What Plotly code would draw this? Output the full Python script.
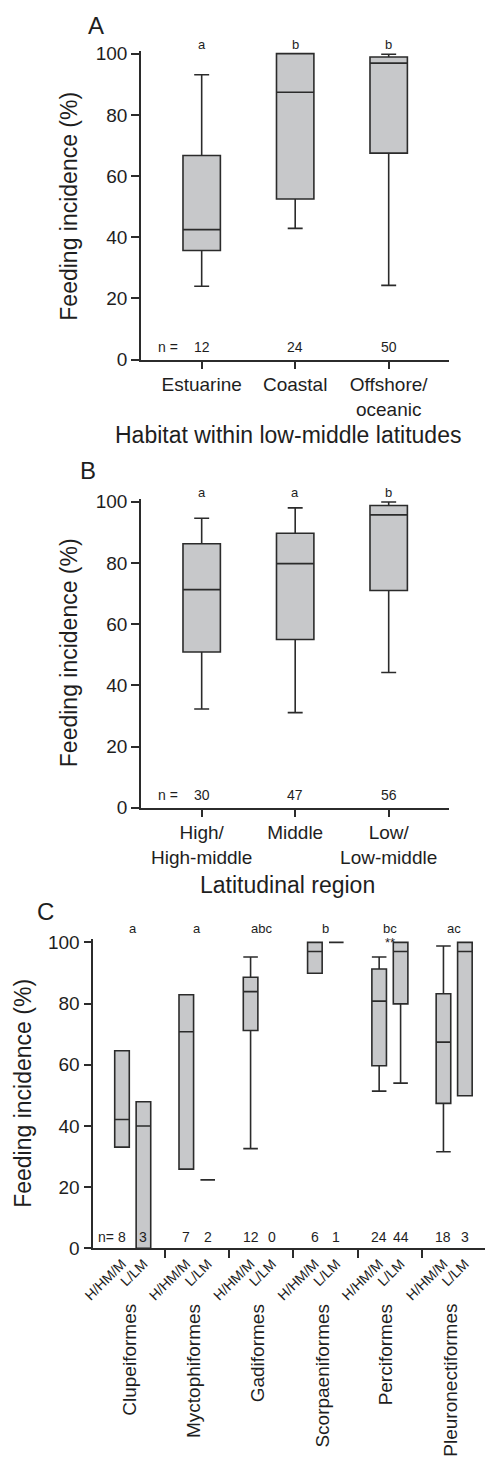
import plotly.graph_objects as go

# ---------------- data ----------------
habitat_cats = ["Estuarine", "Coastal", "Offshore/<br>oceanic"]
habitat_q1 = [35.7, 52.5, 67.5]
habitat_med = [42.5, 87.4, 96.9]
habitat_q3 = [66.7, 100.0, 98.9]
habitat_low = [24.0, 42.9, 24.3]
habitat_high = [93.1, 100.0, 99.8]
habitat_n = [12, 24, 50]
habitat_letters = ["a", "b", "b"]

lat_cats = ["High/<br>High-middle", "Middle", "Low/<br>Low-middle"]
lat_q1 = [50.9, 55.0, 71.0]
lat_med = [71.3, 79.8, 95.7]
lat_q3 = [86.3, 89.7, 98.8]
lat_low = [32.3, 31.1, 44.2]
lat_high = [94.6, 98.0, 99.9]
lat_n = [30, 47, 56]
lat_letters = ["a", "a", "b"]

orders = ["Clupeiformes", "Myctophiformes", "Gadiformes",
          "Scorpaeniformes", "Perciformes", "Pleuronectiformes"]
order_letters = ["a", "a", "abc", "b", "bc", "ac"]
subgroups = ["H/HM/M", "L/LM"]
order_n_high = [8, 7, 12, 6, 24, 18]
order_n_low = [3, 2, 0, 1, 44, 3]
high_q1 = [33.1, 25.9, 71.2, 89.9, 59.7, 47.4]
high_med = [42.1, 70.8, 83.9, 97.0, 80.8, 67.4]
high_q3 = [64.6, 82.9, 88.6, 100.0, 91.3, 83.2]
high_low = [33.1, 25.9, 32.6, 89.9, 51.4, 31.6]
high_high = [64.6, 82.9, 95.2, 100.0, 95.2, 98.8]
low_q1 = [0.0, 22.4, None, 100.0, 79.9, 49.9]
low_med = [40.0, 22.4, None, 100.0, 97.0, 97.0]
low_q3 = [47.9, 22.4, None, 100.0, 100.0, 100.0]
low_low = [0.0, 22.4, None, 100.0, 54.0, 49.9]
low_high = [47.9, 22.4, None, 100.0, 100.0, 100.0]
y_ticks = [0, 20, 40, 60, 80, 100]

# ---------------- style ----------------
FONT = "Liberation Sans, Arial, Helvetica, sans-serif"
LINE = "#2b2b2b"
FILL = "#c7c8ca"
TXT = "#1e1e1e"
H = 1459.0
W = 493.0
OFF = 8.0  # page body margin offset of the figure
YMAX = 101.0


def py(p):  # page pixel row -> paper y
    return 1 - (p - OFF) / H


def px(p):  # page pixel column -> paper x
    return (p - OFF) / W


def ydom(v):  # value -> fraction of the y-axis domain (allows > 1)
    return v / YMAX


fig = go.Figure()

box_style = dict(fillcolor=FILL, line=dict(color=LINE, width=1.6),
                 boxpoints=False, showlegend=False, hoverinfo="skip")

fig.add_trace(go.Box(x=list(range(len(habitat_cats))), q1=habitat_q1, median=habitat_med,
                     q3=habitat_q3, lowerfence=habitat_low, upperfence=habitat_high,
                     width=0.40, whiskerwidth=0.4, xaxis="x", yaxis="y", **box_style))
fig.add_trace(go.Box(x=list(range(len(lat_cats))), q1=lat_q1, median=lat_med,
                     q3=lat_q3, lowerfence=lat_low, upperfence=lat_high,
                     width=0.40, whiskerwidth=0.4, xaxis="x2", yaxis="y2", **box_style))

xs_high = [3 * g for g in range(len(orders))]
xs_low = [3 * g + 1 for g in range(len(orders))]
fig.add_trace(go.Box(x=xs_high, q1=high_q1, median=high_med, q3=high_q3,
                     lowerfence=high_low, upperfence=high_high,
                     width=0.68, whiskerwidth=1.0, xaxis="x3", yaxis="y3", **box_style))
keep = [i for i in range(len(orders)) if low_q1[i] is not None]
fig.add_trace(go.Box(x=[xs_low[i] for i in keep], q1=[low_q1[i] for i in keep],
                     median=[low_med[i] for i in keep], q3=[low_q3[i] for i in keep],
                     lowerfence=[low_low[i] for i in keep], upperfence=[low_high[i] for i in keep],
                     width=0.68, whiskerwidth=1.0, xaxis="x3", yaxis="y3", **box_style))

common_y = dict(range=[0, YMAX], tickvals=y_ticks, ticks="outside", ticklen=8, tickwidth=1.6,
                tickcolor=LINE, showline=True, linecolor=LINE, linewidth=1.6, automargin=False,
                showgrid=False, zeroline=False, tickfont=dict(size=19, color=TXT, family=FONT))
common_x = dict(ticks="outside", ticklen=7, tickwidth=1.6, tickcolor=LINE, showline=True,
                linecolor=LINE, linewidth=1.6, showgrid=False, zeroline=False, automargin=False,
                tickfont=dict(size=19, color=TXT, family=FONT))

# panel C: slot positions -> page pixels 122 + 21.43*slot
c_left = (93.3 - 122) / 21.43
c_right = (W + OFF - 122) / 21.43

fig.update_layout(
    template="none",
    width=493, height=1459, margin=dict(l=0, r=0, t=0, b=0, pad=0, autoexpand=False),
    paper_bgcolor="white", plot_bgcolor="white", showlegend=False,
    font=dict(family=FONT, color=TXT),
    xaxis=dict(domain=[px(141), px(449)], range=[-0.649, 2.645], anchor="y",
               tickvals=list(range(len(habitat_cats))), ticktext=habitat_cats, **common_x),
    yaxis=dict(domain=[py(359.7), py(50.6)], anchor="x", **common_y),
    xaxis2=dict(domain=[px(141), px(449)], range=[-0.649, 2.645], anchor="y2",
                tickvals=list(range(len(lat_cats))), ticktext=lat_cats, **common_x),
    yaxis2=dict(domain=[py(807.8), py(498.7)], anchor="x2", **common_y),
    xaxis3=dict(domain=[px(93.3), 1.0], range=[c_left, c_right], anchor="y3",
                tickvals=xs_high + xs_low, ticktext=[subgroups[0]] * 6 + [subgroups[1]] * 6,
                tickangle=-45, ticks="", showline=True, linecolor=LINE, linewidth=1.6,
                showgrid=False, zeroline=False, automargin=False,
                tickfont=dict(size=14, color=TXT, family=FONT),
                minor=dict(tickvals=[3 * g + 2 for g in range(len(orders) - 1)],
                           ticks="outside", ticklen=8, tickwidth=1.6, tickcolor=LINE,
                           showgrid=False)),
    yaxis3=dict(domain=[py(1248.4), py(939.3)], anchor="x3", **common_y),
)

ann = []
small = dict(size=14, color=TXT, family=FONT)
letter_font = dict(size=13, color=TXT, family=FONT)
C = dict(xanchor="center", yanchor="middle", showarrow=False)

# n labels and letters for A and B
for xr, yr, ns, letters in (("x", "y", habitat_n, habitat_letters),
                            ("x2", "y2", lat_n, lat_letters)):
    ann.append(dict(xref=xr, yref=yr, x=-0.36, y=4.3, text="n =", font=small, **C))
    for i, n in enumerate(ns):
        ann.append(dict(xref=xr, yref=yr, x=i, y=4.3, text=str(n), font=small, **C))
    for i, l in enumerate(letters):
        ann.append(dict(xref=xr, yref=yr + " domain", x=i, y=ydom(103.0), text=l,
                        font=letter_font, **C))

# panel C texts
ann.append(dict(xref="x3", yref="y3", x=-0.3, y=3.8, text="n=", showarrow=False,
                xanchor="right", yanchor="middle", font=small))
for g in range(len(orders)):
    ann.append(dict(xref="x3", yref="y3", x=xs_high[g], y=3.8, text=str(order_n_high[g]),
                    font=small, **C))
    ann.append(dict(xref="x3", yref="y3", x=xs_low[g], y=3.8, text=str(order_n_low[g]),
                    font=small, **C))
    ann.append(dict(xref="x3", yref="y3 domain", x=3 * g + 0.5, y=ydom(104.6),
                    text=order_letters[g], font=letter_font, **C))
    ann.append(dict(xref="x3", yref="paper", x=3 * g + 0.5, xshift=-4, y=py(1302),
                    xanchor="center", yanchor="top", text=orders[g], textangle=-90,
                    showarrow=False, font=dict(size=19, color=TXT, family=FONT)))
ann.append(dict(xref="x3", yref="y3 domain", x=12.5, y=ydom(99.8), text="**",
                font=letter_font, **C))

# axis titles
big = dict(size=23, color=TXT, family=FONT)
for xc, yc in ((69, 206.7), (69, 653.2), (23, 1093.8)):
    ann.append(dict(xref="paper", yref="paper", x=px(xc), y=py(yc), text="Feeding incidence (%)",
                    textangle=-90, font=big, **C))
ann.append(dict(xref="paper", yref="paper", x=px(288), y=py(435),
                text="Habitat within low-middle latitudes", font=big, **C))
ann.append(dict(xref="paper", yref="paper", x=px(287), y=py(885),
                text="Latitudinal region", font=big, **C))

# panel letters
for lab, xc, yc in (("A", 95.5, 25), ("B", 88, 470), ("C", 45.7, 911)):
    ann.append(dict(xref="paper", yref="paper", x=px(xc), y=py(yc), text=lab,
                    font=dict(size=24, color=TXT, family=FONT), **C))

fig.update_layout(annotations=ann)
fig.write_html("out.html")
